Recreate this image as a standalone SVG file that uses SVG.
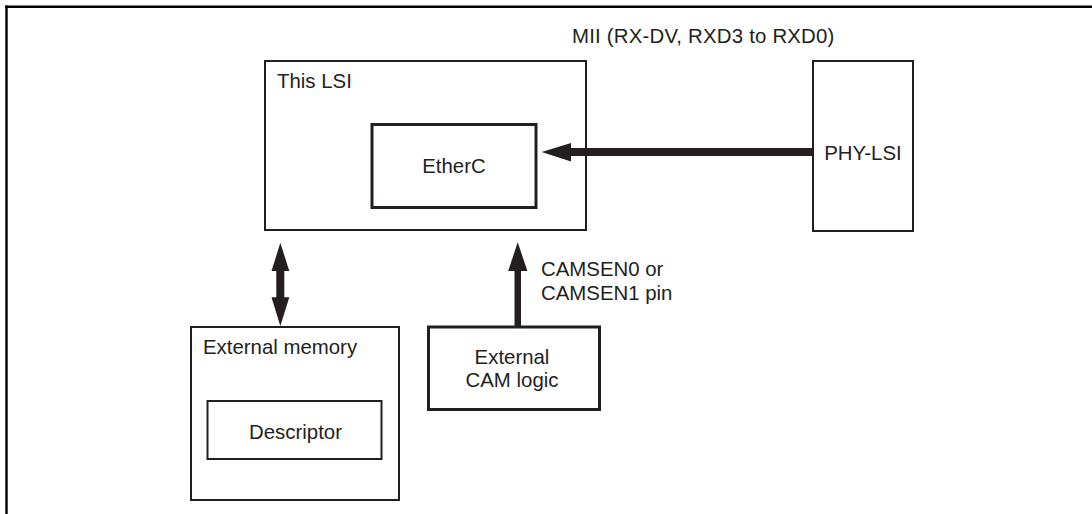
<svg xmlns="http://www.w3.org/2000/svg" width="1092" height="514" viewBox="0 0 1092 514">
<style>
.t{font-family:"Liberation Sans",Arial,sans-serif;font-size:20.4px;fill:#231f20}
.c{text-anchor:middle}
.b{fill:#fff;stroke:#231f20;stroke-width:2}
.bk{fill:#fff;stroke:#231f20;stroke-width:3}
.ah{fill:#231f20;stroke:none}
</style>
<rect width="1092" height="514" fill="#fff"/>
<g id="frame" stroke="#000" stroke-width="2.4" fill="none">
<line x1="5.3" y1="6.8" x2="1092" y2="6.8"/>
<line x1="6.5" y1="5.6" x2="6.5" y2="514"/>
</g>
<g id="this-lsi">
<rect class="b" x="265" y="61" width="321" height="169"/>
<text class="t" x="277" y="88">This LSI</text>
</g>
<g id="etherc">
<rect class="bk" x="372" y="124.5" width="164" height="83"/>
<text class="t c" x="454" y="173">EtherC</text>
</g>
<g id="phy-lsi">
<rect class="b" x="813" y="61" width="100" height="170"/>
<text class="t c" x="863" y="160">PHY-LSI</text>
</g>
<g id="external-memory">
<rect class="b" x="191" y="327" width="208" height="173"/>
<text class="t" x="203" y="354">External memory</text>
</g>
<g id="descriptor">
<rect class="b" x="207.5" y="401" width="174" height="58"/>
<text class="t c" x="295.5" y="439">Descriptor</text>
</g>
<g id="external-cam">
<rect class="bk" x="428.5" y="327" width="171" height="82.5"/>
<text class="t c" x="512" y="364">External</text>
<text class="t c" x="512" y="387">CAM logic</text>
</g>
<g id="connectors">
<rect class="ah" x="570" y="148" width="243" height="8"/>
<polygon class="ah" points="541.7,152 571,143 571,161.5"/>
<rect class="ah" x="276.3" y="270" width="8" height="28"/>
<polygon class="ah" points="280.3,242.7 271.5,271 289.3,271"/>
<polygon class="ah" points="280.3,326 271.5,297.3 289.3,297.3"/>
<rect class="ah" x="514.5" y="270" width="6.5" height="57"/>
<polygon class="ah" points="517.7,242.3 508.2,271 527.4,271"/>
<text class="t" x="572" y="43" letter-spacing="0.2">MII (RX-DV, RXD3 to RXD0)</text>
<text class="t" x="541" y="276">CAMSEN0 or</text>
<text class="t" x="541" y="300">CAMSEN1 pin</text>
</g>
</svg>
